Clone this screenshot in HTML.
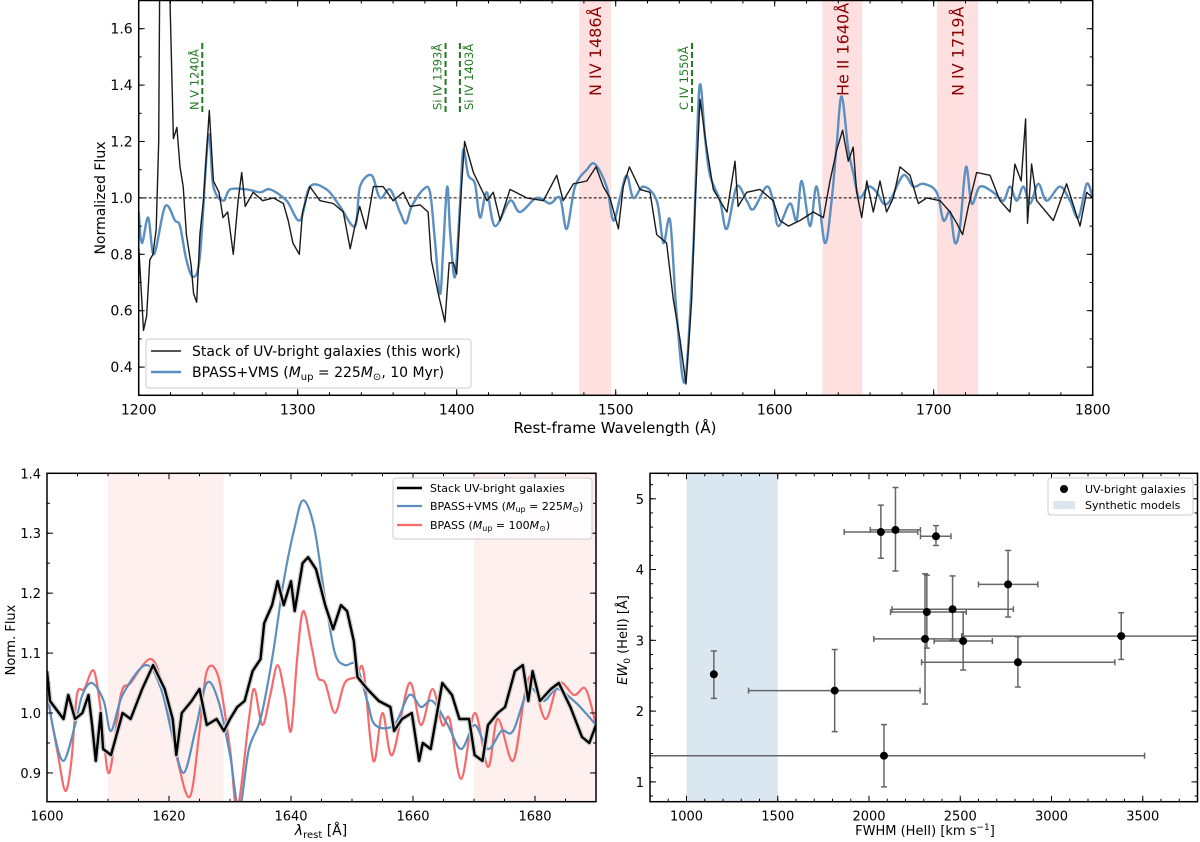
<!DOCTYPE html>
<html><head><meta charset="utf-8"><style>
body{margin:0;background:#fff;}
svg{display:block;font-family:"DejaVu Sans","Liberation Sans",sans-serif;}
</style></head><body>
<svg id="fig" width="1200" height="842" viewBox="0 0 1200 842"></svg>
<script>
// ---------- Top panel data ----------
const topBlackWl=[1200,1203,1205,1207,1209,1211,1212.6,1214,1216,1218,1219.7,1221.8,1224,1226,1228,1230,1233,1234.5,1236.5,1238.5,1240.7,1244.4,1247,1250.5,1253,1256,1259.5,1262.5,1264.8,1267,1272,1278,1284.7,1291,1294,1297,1301,1303,1307.7,1314,1322.4,1328.7,1333,1336,1339,1343,1347.6,1353.8,1360,1366.4,1370.6,1377,1382,1384,1388.4,1392.6,1395.3,1397.9,1400,1403,1405,1410.5,1419,1423,1427.3,1433.5,1444,1454.5,1462.9,1467,1473.4,1481.8,1487.6,1492.2,1496.4,1501.7,1504.8,1508.6,1515.3,1521.6,1525.8,1532,1536.2,1540.4,1544.2,1547.8,1549.9,1553,1557.2,1561.4,1567.7,1570,1575,1577,1582.4,1590.7,1599,1603.3,1608.6,1615.9,1624.3,1630.6,1634.8,1639,1642.7,1646.3,1649.4,1651.6,1654.7,1657.9,1662,1666.2,1670.4,1674.6,1678.8,1685.1,1690.4,1695.6,1704,1710.3,1714.5,1718.2,1721.8,1727,1735.4,1741.7,1748,1751.1,1755,1757.8,1759,1761.6,1764.8,1775.2,1783.6,1792,1796.2,1800];
const topBlackFlux=[0.83,0.53,0.58,0.78,0.80,0.89,1.2,2.5,2.8,2.5,1.7,1.21,1.25,1.11,1.04,0.87,0.76,0.66,0.63,0.87,0.99,1.31,1.06,1.02,0.93,0.95,0.80,0.99,1.09,0.97,1.02,0.99,1.00,0.98,0.92,0.84,0.80,0.95,1.04,0.99,0.98,0.95,0.82,0.90,0.97,0.89,1.04,1.04,0.99,1.02,0.97,0.975,0.95,0.78,0.66,0.56,0.77,0.77,0.73,1.04,1.20,1.09,0.99,1.02,0.92,1.03,1.00,0.99,1.08,0.99,1.05,1.06,1.11,1.04,1.00,0.89,1.04,1.11,1.03,1.02,0.87,0.84,0.64,0.50,0.34,0.64,0.97,1.35,1.18,1.03,0.97,0.95,1.13,0.97,1.02,1.03,0.99,0.92,0.90,0.92,0.95,0.93,1.06,1.17,1.24,1.13,1.18,1.02,0.93,1.06,0.95,1.06,0.95,1.00,1.11,1.08,0.98,1.00,0.99,0.95,0.91,0.87,0.97,1.09,1.08,0.99,0.95,1.12,1.06,1.28,0.91,1.12,0.99,0.92,1.05,0.90,1.02,1.00];
const topBlueWl=[1200,1202,1206,1209.6,1216.6,1222.8,1226,1230,1234.4,1238.6,1243.8,1247,1253.2,1257.5,1268,1276.5,1282.6,1293,1301.4,1307.7,1318.2,1326.6,1336,1339.2,1346.5,1351.7,1358,1364.3,1368.1,1371.7,1379,1383.2,1386.3,1389.5,1391.5,1394,1396,1398.9,1402,1404.1,1407.3,1411.5,1414.7,1418.9,1424.1,1433.5,1439.8,1450.3,1458.7,1465,1469.2,1474.4,1481.8,1487,1494.3,1498.5,1502.7,1506.9,1511.1,1517.4,1525.8,1530,1534.2,1538.3,1543.6,1548.8,1552.6,1556.2,1559.3,1565.6,1569.8,1576.1,1582.4,1586.6,1594.9,1599,1602.3,1609.6,1613.8,1617,1622.2,1626.4,1631.6,1635.8,1639,1642.1,1646.3,1649.4,1653.2,1658.9,1664.2,1668.3,1672.5,1680.9,1687.2,1693.5,1701.9,1706.1,1710.3,1713.4,1716.6,1720.3,1723.9,1729.1,1737.5,1743.8,1748,1752.2,1756.4,1760.6,1765.8,1771,1779.4,1785.7,1791,1796.2,1800];
const topBlueFlux=[0.95,0.84,0.93,0.80,0.97,0.92,0.90,0.78,0.72,0.80,1.22,1.04,0.99,1.03,1.03,1.02,1.03,0.99,0.92,1.04,1.03,0.97,0.90,1.04,1.08,1.00,1.03,0.95,0.91,0.97,1.03,1.02,0.85,0.66,0.82,1.04,0.87,0.72,0.97,1.17,1.08,1.05,0.93,1.02,0.90,0.99,0.95,1.00,0.98,1.00,0.89,1.04,1.10,1.12,1.04,0.92,1.00,1.08,1.00,1.04,0.99,0.84,0.92,0.59,0.35,0.82,1.39,1.21,1.08,0.99,0.89,1.04,0.99,0.96,1.04,0.99,0.90,0.98,0.92,1.06,0.90,1.04,0.84,0.99,1.19,1.36,1.17,1.09,1.00,1.04,1.02,0.98,0.99,1.08,1.04,1.05,1.02,0.92,0.95,0.84,0.90,1.11,0.98,1.04,1.02,0.99,1.04,0.99,1.04,0.98,1.05,0.99,1.04,0.99,0.93,1.05,1.00];
const topBands=[[1477,1497],[1630,1655],[1702,1728]];
const topBandLabels=["N IV 1486Å","He II 1640Å","N IV 1719Å"];
const greenLines=[1240,1393,1402,1548];
const greenLabels=["N V 1240Å","Si IV 1393Å","Si IV 1403Å","C IV 1550Å"];
const greenSide=[-1,-1,1,-1];
const topXTicks=[1200,1300,1400,1500,1600,1700,1800];
const topYTicks=[0.4,0.6,0.8,1.0,1.2,1.4,1.6];

// ---------- Bottom-left data ----------
const blBlackWl=[1600,1600.5,1602.7,1603.5,1604.6,1605.8,1606.8,1607.4,1608,1608.8,1609.2,1610.5,1612.4,1613.7,1615.6,1617.4,1619.3,1620.6,1621.2,1622.1,1623.7,1625,1626.2,1627.8,1629,1630,1631.2,1632.4,1633.7,1635,1635.6,1636.9,1637.8,1638.8,1640,1640.6,1641.9,1642.8,1644.1,1645.6,1646.9,1648.2,1649.2,1650.3,1650.9,1652.5,1654.4,1656.3,1656.9,1658.2,1659.8,1661,1661.6,1662.9,1664.8,1666.4,1667.6,1669.2,1670.1,1671.4,1672.3,1673.9,1675.1,1676.7,1678,1678.9,1679.6,1680.8,1682.6,1683.9,1685.8,1687.7,1688.9,1690];
const blBlackFlux=[1.07,1.02,0.99,1.03,0.99,1.00,1.03,0.98,0.92,1.00,0.94,0.93,1.00,0.99,1.04,1.08,1.04,0.99,0.93,1.00,1.02,1.04,0.98,0.99,0.97,0.99,1.01,1.02,1.07,1.09,1.15,1.18,1.22,1.18,1.22,1.17,1.25,1.26,1.24,1.18,1.14,1.18,1.17,1.12,1.06,1.04,1.02,1.01,0.97,0.99,1.00,0.92,0.95,0.94,1.05,1.03,0.99,0.99,0.93,0.92,0.98,1.00,1.01,1.07,1.08,1.02,1.07,1.02,1.04,1.05,1.01,0.96,0.95,0.98];
const blBlueWl=[1600,1601.1,1602.7,1604.6,1605.8,1607.4,1609.3,1610.5,1612.4,1616.2,1618.7,1620.6,1622.4,1624.3,1626.2,1628.1,1630,1631.5,1633.1,1635,1636.9,1638.8,1640.6,1642,1643.8,1645.6,1647.2,1648.8,1650.7,1652.5,1653.8,1656.9,1659.4,1661.3,1663.2,1665.7,1667.9,1670.1,1672.3,1674.5,1676.4,1679,1681.4,1683.6,1686.4,1688.3,1690];
const blBlueFlux=[1.04,0.97,0.92,0.98,1.03,1.05,1.02,0.97,1.03,1.08,1.04,0.96,0.90,0.97,1.05,1.02,0.93,0.84,0.94,0.99,1.09,1.22,1.31,1.355,1.31,1.19,1.10,1.08,1.08,1.02,0.98,0.98,1.03,1.01,1.02,0.98,0.94,0.98,0.94,0.97,0.97,1.04,1.02,1.04,1.02,1.00,0.98];
const blRedWl=[1600,1601.8,1603,1604,1604.9,1606.1,1607.7,1609,1610.2,1612.1,1613.7,1617.1,1619.3,1621.2,1623.4,1625,1626.2,1628.1,1630,1631.2,1633.1,1634,1635.3,1636.6,1637.8,1639,1640,1641,1642,1643.4,1644.4,1645.6,1647.2,1648.8,1650.7,1651.9,1653.5,1655,1656.6,1659.4,1661.3,1663.2,1664.8,1666,1667.9,1670.1,1672.3,1673.9,1676.4,1678.3,1679.5,1681.7,1683.9,1686.4,1688.3,1690];
const blRedFlux=[1.03,0.93,0.87,0.92,1.03,1.04,1.07,0.99,0.90,1.03,1.05,1.09,1.03,0.93,0.86,0.97,1.07,1.06,0.94,0.84,0.99,1.04,0.98,1.03,1.08,1.03,0.97,1.09,1.17,1.11,1.06,1.05,1.00,1.05,1.06,1.07,0.92,1.00,0.93,1.05,0.98,1.04,0.98,0.99,0.89,1.00,0.91,0.99,0.92,1.03,1.06,0.99,1.05,1.03,1.04,0.98];
const blBands=[[1610,1629],[1670,1690]];
const blXTicks=[1600,1620,1640,1660,1680];
const blYTicks=[0.9,1.0,1.1,1.2,1.3,1.4];

// ---------- Bottom-right data ----------
const fwhm=[1150,1812,2082,2065,2145,2367,2762,2317,2458,2307,2516,2816,3382];
const fwhmLo=[1150,1340,800,1864,2007,2282,2600,2118,2126,2026,2357,2288,2508];
const fwhmHi=[1150,2280,3510,2267,2282,2449,2925,2533,2791,2519,2676,3347,4300];
const ew=[2.52,2.29,1.37,4.53,4.56,4.47,3.79,3.40,3.44,3.02,2.99,2.69,3.06];
const ewLo=[2.18,1.71,0.93,4.16,3.98,4.34,3.33,2.89,3.00,2.10,2.58,2.34,2.73];
const ewHi=[2.85,2.87,1.81,4.91,5.16,4.62,4.27,3.92,3.91,3.94,3.40,3.05,3.39];
const brXTicks=[1000,1500,2000,2500,3000,3500];
const brYTicks=[1,2,3,4,5];

const NS="http://www.w3.org/2000/svg";
const svg=document.getElementById('fig');
function mk(tag,attrs,parent){const e=document.createElementNS(NS,tag);for(const k in attrs)e.setAttribute(k,attrs[k]);(parent||svg).appendChild(e);return e;}
function txt(s,attrs,parent){const e=mk('text',attrs,parent);e.textContent=s;return e;}

const T={x0:138.7,x1:1092.7,y0:0.5,y1:395.3,xmin:1200,xmax:1800,ymin:0.3,ymax:1.7};
const BL={x0:47,x1:596,y0:473.3,y1:801.7,xmin:1600,xmax:1690,ymin:0.852,ymax:1.4};
const BR={x0:650,x1:1197.5,y0:473.3,y1:801.7,xmin:800,xmax:3800,ymin:0.72,ymax:5.36};
function sx(A,v){return A.x0+(v-A.xmin)/(A.xmax-A.xmin)*(A.x1-A.x0);}
function sy(A,v){return A.y1-(v-A.ymin)/(A.ymax-A.ymin)*(A.y1-A.y0);}
function clip(A,id){const c=mk('clipPath',{id:id});mk('rect',{x:A.x0,y:A.y0,width:A.x1-A.x0,height:A.y1-A.y0},c);}
function line(A,xs,ys,attrs,g,smooth){
  const P=xs.map((x,i)=>[sx(A,x),sy(A,ys[i])]);
  let d='M'+P[0][0].toFixed(1)+' '+P[0][1].toFixed(1);
  for(let i=1;i<P.length;i++){
    if(smooth){const p0=P[Math.max(i-2,0)],p1=P[i-1],p2=P[i],p3=P[Math.min(i+1,P.length-1)];
      const c1=[p1[0]+(p2[0]-p0[0])/6,p1[1]+(p2[1]-p0[1])/6],c2=[p2[0]-(p3[0]-p1[0])/6,p2[1]-(p3[1]-p1[1])/6];
      d+='C'+c1[0].toFixed(1)+' '+c1[1].toFixed(1)+' '+c2[0].toFixed(1)+' '+c2[1].toFixed(1)+' '+p2[0].toFixed(1)+' '+p2[1].toFixed(1);}
    else d+='L'+P[i][0].toFixed(1)+' '+P[i][1].toFixed(1);}
  return mk('path',Object.assign({d:d,fill:'none','stroke-linejoin':'round'},attrs),g);}
function axesFrame(A,xt,yt,xminor,yminor,fmtx,fmty,fs){
  const g=mk('g',{});
  
  
  for(let v=Math.ceil(A.xmin/xminor)*xminor;v<=A.xmax+1e-9;v+=xminor){const x=sx(A,v);mk('line',{x1:x,x2:x,y1:A.y1,y2:A.y1-3,stroke:'#000','stroke-width':1},g);mk('line',{x1:x,x2:x,y1:A.y0,y2:A.y0+3,stroke:'#000','stroke-width':1},g);}
  for(let v=Math.ceil(A.ymin/yminor-1e-6)*yminor;v<=A.ymax+1e-9;v+=yminor){const y=sy(A,v);mk('line',{x1:A.x0,x2:A.x0+3,y1:y,y2:y,stroke:'#000','stroke-width':1},g);mk('line',{x1:A.x1,x2:A.x1-3,y1:y,y2:y,stroke:'#000','stroke-width':1},g);}
  xt.forEach(v=>{const x=sx(A,v);mk('line',{x1:x,x2:x,y1:A.y1,y2:A.y1-6,stroke:'#000'},g);mk('line',{x1:x,x2:x,y1:A.y0,y2:A.y0+6,stroke:'#000'},g);
    const t=txt(fmtx(v),{x:x,y:A.y1+19,'text-anchor':'middle','font-size':fs},g);});
  yt.forEach(v=>{const y=sy(A,v);mk('line',{x1:A.x0,x2:A.x0+6,y1:y,y2:y,stroke:'#000'},g);mk('line',{x1:A.x1,x2:A.x1-6,y1:y,y2:y,stroke:'#000'},g);
    const t=txt(fmty(v),{x:A.x0-6,y:y+5,'text-anchor':'end','font-size':fs},g);});
  const r=mk('rect',{x:A.x0,y:A.y0,width:A.x1-A.x0,height:A.y1-A.y0,fill:'none',stroke:'#000','stroke-width':1.5});
  
}
clip(T,'cT');clip(BL,'cBL');clip(BR,'cBR');

// ===== TOP PANEL =====
const gT=mk('g',{'clip-path':'url(#cT)'});

topBands.forEach((b,i)=>{const r=mk('rect',{x:sx(T,b[0]),y:T.y0,width:sx(T,b[1])-sx(T,b[0]),height:T.y1-T.y0,fill:'#ffe0e0'},gT);
  });
mk('line',{x1:T.x0,x2:T.x1,y1:sy(T,1),y2:sy(T,1),stroke:'#000','stroke-width':1,'stroke-dasharray':'3,2'},gT);
const tb=line(T,topBlueWl,topBlueFlux,{stroke:'#5b8fbf','stroke-width':2.4},gT,true);

const tk=line(T,topBlackWl,topBlackFlux,{stroke:'#1a1a1a','stroke-width':1.4},gT,false);

topBands.forEach((b,i)=>{const cx=(sx(T,b[0])+sx(T,b[1]))/2+6;const t=txt(topBandLabels[i],{x:0,y:0,transform:`translate(${cx},96) rotate(-90)`,'font-size':16,fill:'#8b0000'});
  });
greenLines.forEach((w,i)=>{const x=sx(T,w);const l=mk('line',{x1:x,x2:x,y1:43,y2:113,stroke:'#1f7a1f','stroke-width':2,'stroke-dasharray':'6,3'});
  
  const tx=greenSide[i]<0?x-4:x+13;
  const t=txt(greenLabels[i],{x:0,y:0,transform:`translate(${tx},110) rotate(-90)`,'font-size':11.5,fill:'#1f7a1f'});
  });
axesFrame(T,topXTicks,topYTicks,20,0.1,v=>String(v),v=>v.toFixed(1),14);
let t=txt('Normalized Flux',{x:0,y:0,transform:'translate(105,198) rotate(-90)','text-anchor':'middle','font-size':14});

t=txt('Rest-frame Wavelength (Å)',{x:615,y:433,'text-anchor':'middle','font-size':15});

const lgT=mk('g',{});
mk('rect',{x:146,y:339,width:325,height:49,rx:3,fill:'#fff','fill-opacity':0.85,stroke:'#ccc'},lgT);
mk('line',{x1:151,x2:181,y1:351,y2:351,stroke:'#1a1a1a','stroke-width':1.5},lgT);
mk('line',{x1:151,x2:181,y1:372,y2:372,stroke:'#5b8fbf','stroke-width':2.5},lgT);
t=txt('Stack of UV-bright galaxies (this work)',{x:192,y:356,'font-size':14},lgT);
t=mk('text',{x:192,y:377,'font-size':14},lgT);
t.innerHTML='BPASS+VMS (<tspan font-style="italic">M</tspan><tspan font-size="10" dy="3">up</tspan><tspan dy="-3"> = 225</tspan><tspan font-style="italic">M</tspan><tspan font-size="10" dy="3">⊙</tspan><tspan dy="-3">, 10 Myr)</tspan>';

// ===== BOTTOM LEFT =====
const gBL=mk('g',{'clip-path':'url(#cBL)'});

blBands.forEach(b=>{const r=mk('rect',{x:sx(BL,b[0]),y:BL.y0,width:sx(BL,b[1])-sx(BL,b[0]),height:BL.y1-BL.y0,fill:'#fff0f0'},gBL);
  });
let p=line(BL,blRedWl,blRedFlux,{stroke:'#f56b6b','stroke-width':2.2},gBL,true);
p=line(BL,blBlueWl,blBlueFlux,{stroke:'#5b8fbf','stroke-width':2.2},gBL,true);
p=line(BL,blBlackWl,blBlackFlux,{stroke:'#d0d0d0','stroke-width':5},gBL,false);
p=line(BL,blBlackWl,blBlackFlux,{stroke:'#000','stroke-width':2.4},gBL,false);
axesFrame(BL,blXTicks,blYTicks,5,0.05,v=>String(v),v=>v.toFixed(1),13);
t=txt('Norm. Flux',{x:0,y:0,transform:'translate(15,640) rotate(-90)','text-anchor':'middle','font-size':13});
t=mk('text',{x:321,y:835,'text-anchor':'middle','font-size':14});
t.innerHTML='<tspan font-style="italic">λ</tspan><tspan font-size="10" dy="3">rest</tspan><tspan dy="-3"> [Å]</tspan>';
const lgB=mk('g',{});
mk('rect',{x:393,y:478,width:199,height:61,rx:3,fill:'#fff','fill-opacity':0.85,stroke:'#ccc'},lgB);
mk('line',{x1:397,x2:422,y1:488,y2:488,stroke:'#000','stroke-width':2.5},lgB);
mk('line',{x1:397,x2:422,y1:506,y2:506,stroke:'#5b8fbf','stroke-width':2.2},lgB);
mk('line',{x1:397,x2:422,y1:525,y2:525,stroke:'#f56b6b','stroke-width':2.2},lgB);
t=txt('Stack UV-bright galaxies',{x:430,y:492,'font-size':11},lgB);
t=mk('text',{x:430,y:510,'font-size':11},lgB);
t.innerHTML='BPASS+VMS (<tspan font-style="italic">M</tspan><tspan font-size="8" dy="2">up</tspan><tspan dy="-2"> = 225</tspan><tspan font-style="italic">M</tspan><tspan font-size="8" dy="2">⊙</tspan><tspan dy="-2">)</tspan>';
t=mk('text',{x:430,y:529,'font-size':11},lgB);
t.innerHTML='BPASS (<tspan font-style="italic">M</tspan><tspan font-size="8" dy="2">up</tspan><tspan dy="-2"> = 100</tspan><tspan font-style="italic">M</tspan><tspan font-size="8" dy="2">⊙</tspan><tspan dy="-2">)</tspan>';

// ===== BOTTOM RIGHT =====
const gBR=mk('g',{'clip-path':'url(#cBR)'});

let sh=mk('rect',{x:sx(BR,1000),y:BR.y0,width:sx(BR,1500)-sx(BR,1000),height:BR.y1-BR.y0,fill:'#dae6f0'},gBR);

fwhm.forEach((v,i)=>{const x=sx(BR,v),y=sy(BR,ew[i]);
  const eg=mk('g',{stroke:'#666','stroke-width':1.5},gBR);
  
  const xa=sx(BR,fwhmLo[i]),xb=sx(BR,fwhmHi[i]);
  if(xb-xa>1){mk('line',{x1:xa,x2:xb,y1:y,y2:y},eg);mk('line',{x1:xa,x2:xa,y1:y-3,y2:y+3},eg);mk('line',{x1:xb,x2:xb,y1:y-3,y2:y+3},eg);}
  const ya=sy(BR,ewLo[i]),yb=sy(BR,ewHi[i]);
  mk('line',{x1:x,x2:x,y1:ya,y2:yb},eg);mk('line',{x1:x-3,x2:x+3,y1:ya,y2:ya},eg);mk('line',{x1:x-3,x2:x+3,y1:yb,y2:yb},eg);
});
fwhm.forEach((v,i)=>{const c=mk('circle',{cx:sx(BR,v),cy:sy(BR,ew[i]),r:4,fill:'#000'},gBR);
  });
axesFrame(BR,brXTicks,brYTicks,100,0.2,v=>String(v),v=>String(v),13);
t=mk('text',{x:0,y:0,transform:'translate(627,640) rotate(-90)','text-anchor':'middle','font-size':13});
t.innerHTML='<tspan font-style="italic">EW</tspan><tspan font-size="9" dy="3">0</tspan><tspan dy="-3"> (HeII) [Å]</tspan>';
t=mk('text',{x:925,y:835,'text-anchor':'middle','font-size':13});
t.innerHTML='FWHM (HeII) [km s<tspan font-size="9" dy="-5">−1</tspan><tspan dy="5">]</tspan>';
const lgR=mk('g',{});
mk('rect',{x:1048,y:478,width:145,height:37,rx:3,fill:'#fff','fill-opacity':0.85,stroke:'#ccc'},lgR);
mk('circle',{cx:1064,cy:489,r:4,fill:'#000'},lgR);
mk('rect',{x:1053,y:501,width:22,height:8,fill:'#dae6f0'},lgR);
t=txt('UV-bright galaxies',{x:1085,y:493,'font-size':11},lgR);
t=txt('Synthetic models',{x:1085,y:509,'font-size':11},lgR);
</script>
</body></html>
